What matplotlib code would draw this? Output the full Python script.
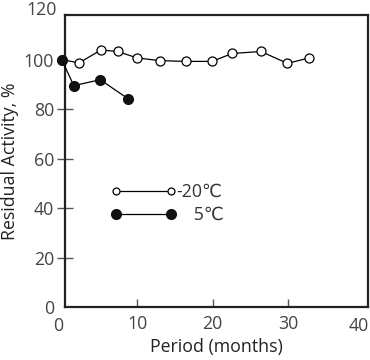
import matplotlib
matplotlib.use('Agg')
import matplotlib.pyplot as plt
from matplotlib.legend_handler import HandlerLine2D
from matplotlib.lines import Line2D

plt.rcParams['font.family'] = ['Open Sans', 'DejaVu Sans']

# data
months_m20 = [0, 2.3, 5.2, 7.4, 10.0, 13.0, 16.4, 19.9, 22.6, 26.4, 29.9, 32.8]
activity_m20 = [100.0, 98.7, 103.9, 103.3, 100.7, 99.6, 99.3, 99.3, 102.5, 103.3, 98.5, 100.7]
months_5 = [0, 1.6, 5.1, 8.8]
activity_5 = [100.0, 89.5, 91.9, 84.2]
labels = ['-20\u2103', '\u2002\u20025\u2103']

xticks = [10, 20, 30]
xedge_labels = [0, 40]
yticks = [0, 20, 40, 60, 80, 100]

fs = 12.8

fig = plt.figure(figsize=(3.7, 3.6), dpi=100)
ax = fig.add_axes([0.176, 0.147, 0.819, 0.811])

l1, = ax.plot(months_m20, activity_m20, color='black', lw=0.9, marker='o',
              markersize=6.5, markerfacecolor='white', markeredgecolor='black',
              markeredgewidth=0.9, clip_on=False, zorder=3)
l2, = ax.plot(months_5, activity_5, color='black', lw=0.9, marker='o',
              markersize=7, markerfacecolor='#111111', markeredgecolor='#111111',
              clip_on=False, zorder=4)

ax.set_xlim(0.45, 40.6)
ax.set_ylim(0, 118)

ax.set_xticks(xticks)
ax.set_yticks(yticks)
ax.tick_params(axis='x', direction='in', length=6, width=1, pad=6,
               labelsize=fs, labelcolor='#444444', color='#555555')
ax.tick_params(axis='y', direction='inout', length=12, width=1, pad=2,
               labelsize=fs, labelcolor='#444444', color='#555555')
for t in (ax.yaxis.get_major_ticks()[0], ax.yaxis.get_major_ticks()[-1]):
    t.tick1line.set_visible(False)

# end labels of the x axis and the 120 label sit outside the frame
xtr = ax.get_xaxis_transform()
for v, dx in zip(xedge_labels, [-0.5, -0.7]):
    ax.text(v + dx, -0.035, str(v), transform=xtr, ha='center', va='top',
            fontsize=fs, color='#444444', clip_on=False)
ax.text(-0.028, 120, '120', transform=ax.get_yaxis_transform(), ha='right',
        va='center', fontsize=fs, color='#444444', clip_on=False)

for s in ax.spines.values():
    s.set_linewidth(1.6)
    s.set_color('#222222')

ax.set_xlabel('Period (months)', fontsize=fs, color='#222222', labelpad=3)
ax.set_ylabel('Residual Activity, %', fontsize=fs, color='#222222', labelpad=3)

leg = ax.legend([l1, l2], labels, loc='center left',
                bbox_to_anchor=(0.115, 0.355), frameon=False, numpoints=2,
                handlelength=3.1, handletextpad=0.3, labelspacing=0.3,
                fontsize=fs, handler_map={Line2D: HandlerLine2D(marker_pad=0)})
for t in leg.get_texts():
    t.set_color('#333333')
leg.get_lines()[0].set_markersize(5)

fig.savefig('out.png', dpi=100)
